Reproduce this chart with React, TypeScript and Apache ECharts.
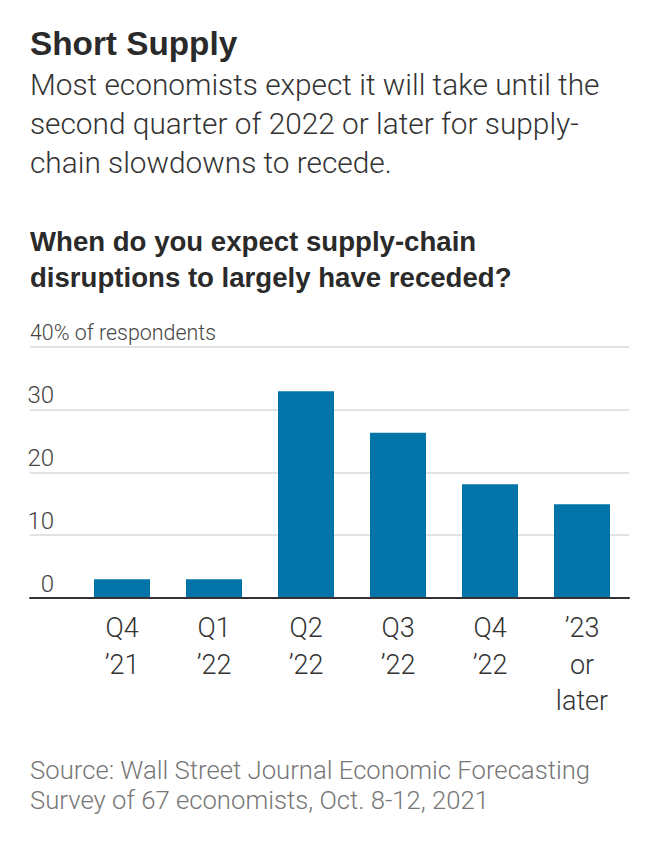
import React, { useEffect, useRef } from "react";
import * as echarts from "echarts";

const titleText = "Short Supply";
const subtitleLines = [
  "Most economists expect it will take until the",
  "second quarter of 2022 or later for supply-",
  "chain slowdowns to recede.",
];
const questionLines = [
  "When do you expect supply-chain",
  "disruptions to largely have receded?",
];
const categories = ["Q4\n\u201921", "Q1\n\u201922", "Q2\n\u201922", "Q3\n\u201922", "Q4\n\u201922", "\u201923\nor\nlater"];
const values = [3.0, 3.0, 32.9, 26.3, 18.1, 14.9];
const yMin = 0;
const yMax = 40;
const yInterval = 10;
const yUnit = "% of respondents";
const sourceLines = [
  "Source: Wall Street Journal Economic Forecasting",
  "Survey of 67 economists, Oct. 8-12, 2021",
];

const FONT = "'Liberation Sans', Arial, sans-serif";
const LIGHT = "Roboto, 'Liberation Sans', sans-serif";

export default function App() {
  const ref = useRef<HTMLDivElement>(null);
  useEffect(() => {
    document.body.style.margin = "0";
    const chart = echarts.init(ref.current!, null, { renderer: "svg" });
    chart.setOption({
      animation: false,
      backgroundColor: "#ffffff",
      textStyle: { fontFamily: FONT },
      graphic: [
        {
          type: "text",
          x: 30,
          y: 27,
          style: {
            text: titleText,
            fontFamily: FONT,
            fontSize: 33.3,
            fontWeight: "bold",
            fill: "#2a2a2a",
            lineHeight: 33,
            verticalAlign: "top",
          },
        },
        {
          type: "text",
          x: 30,
          y: 65,
          style: {
            text: subtitleLines.join("\n"),
            fontFamily: LIGHT,
            fontSize: 29.8,
            fontWeight: 300,
            fill: "#333333",
            lineHeight: 39,
            verticalAlign: "top",
          },
        },
        {
          type: "text",
          x: 30,
          y: 223,
          style: {
            text: questionLines.join("\n"),
            fontFamily: FONT,
            fontSize: 27.6,
            fontWeight: "bold",
            fill: "#2a2a2a",
            lineHeight: 36.5,
            verticalAlign: "top",
          },
        },
        {
          type: "text",
          x: 30,
          y: 755,
          style: {
            text: sourceLines.join("\n"),
            fontFamily: LIGHT,
            fontSize: 25.7,
            fontWeight: 300,
            fill: "#777777",
            lineHeight: 30,
            verticalAlign: "top",
          },
        },
      ],
      grid: [
        { left: 30, right: 41, top: 346.5, bottom: 255 },
        { left: 76, right: 42, top: 346.5, bottom: 255 },
      ],
      xAxis: [
        {
          gridIndex: 0,
          type: "value",
          min: 0,
          max: 1,
          z: 10,
          axisLine: { show: true, onZero: false, lineStyle: { color: "#333333", width: 2 } },
          axisTick: { show: false },
          axisLabel: { show: false },
          splitLine: { show: false },
        },
        {
          gridIndex: 1,
          type: "category",
          data: categories,
          axisLine: { show: false },
          axisTick: { show: false },
          axisLabel: {
            margin: 12,
            fontFamily: LIGHT,
            fontWeight: 300,
            fontSize: 27,
            lineHeight: 36.5,
            color: "#333333",
            interval: 0,
          },
        },
      ],
      yAxis: [
        {
          gridIndex: 0,
          type: "value",
          min: yMin,
          max: yMax,
          interval: yInterval,
          axisLine: { show: false },
          axisTick: { show: false },
          splitLine: { show: true, lineStyle: { color: "#e2e2e2", width: 2 } },
          axisLabel: {
            inside: true,
            margin: 0,
            align: "left",
            verticalAlign: "bottom",
            formatter: (v: number) =>
              v === yMax ? `{u|${v}${yUnit}}` : `{n|${v}}`,
            rich: {
              n: {
                fontFamily: LIGHT,
                fontWeight: 300,
                fontSize: 24,
                color: "#444444",
                width: 24,
                align: "right",
                lineHeight: 28,
              },
              u: {
                fontFamily: LIGHT,
                fontWeight: 300,
                fontSize: 21.4,
                color: "#444444",
                lineHeight: 28,
              },
            },
          },
        },
        {
          gridIndex: 1,
          type: "value",
          min: yMin,
          max: yMax,
          interval: yInterval,
          show: false,
          splitLine: { show: false },
        },
      ],
      series: [
        {
          type: "bar",
          xAxisIndex: 1,
          yAxisIndex: 1,
          data: values,
          barWidth: 56,
          itemStyle: { color: "#0274a8" },
        },
      ],
    });
    return () => chart.dispose();
  }, []);
  return <div ref={ref} style={{ width: 670, height: 853 }} />;
}
